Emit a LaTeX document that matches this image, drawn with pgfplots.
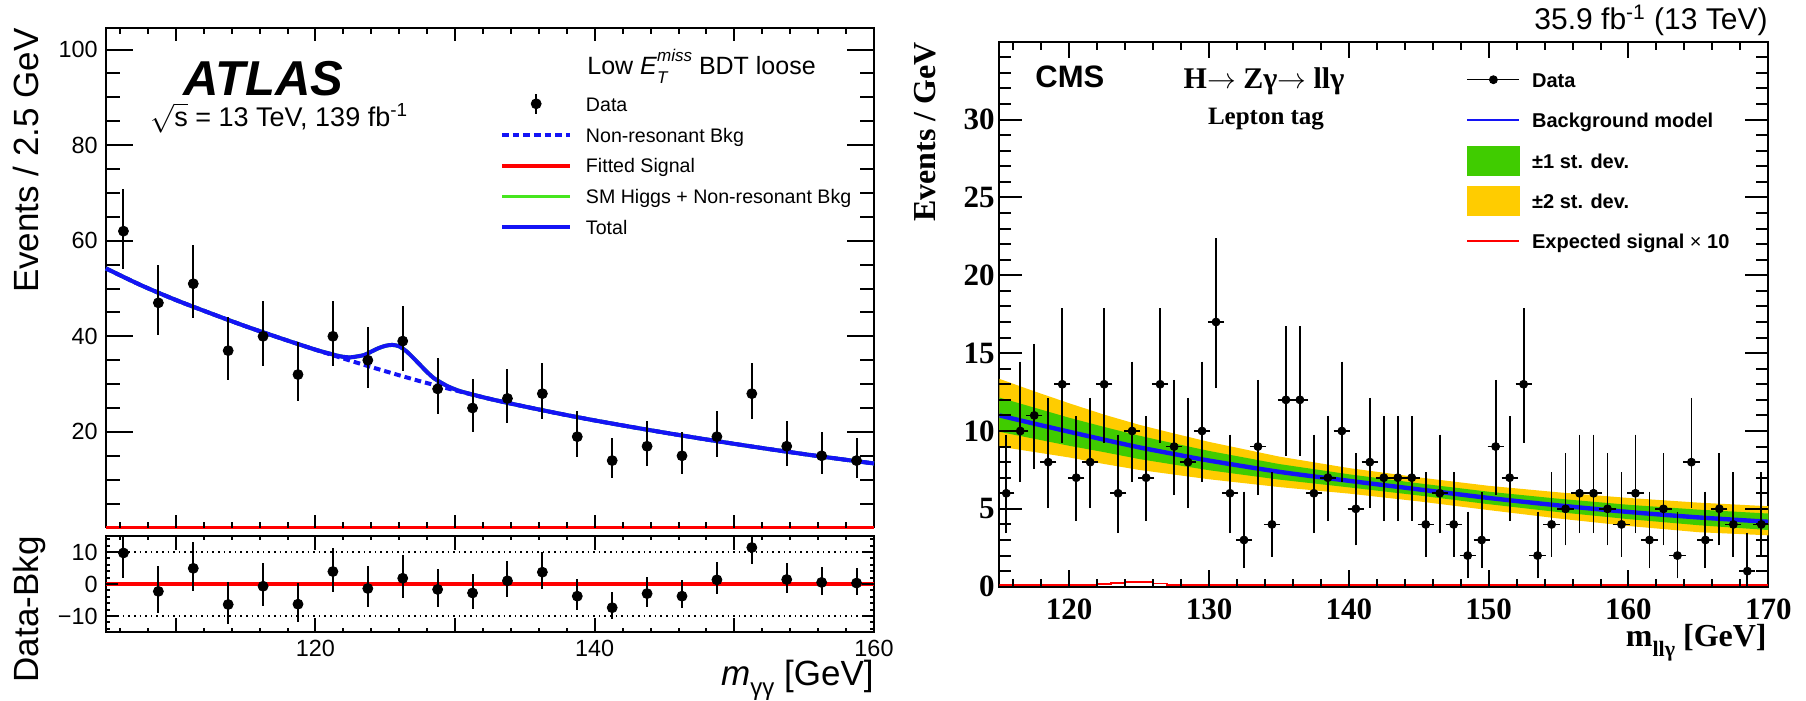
\documentclass[border=0pt]{standalone}
\usepackage{pgfplots}
\pgfplotsset{compat=1.18}
\usepackage{pgfplotstable}
\usepackage{fontspec}
\setmainfont{Liberation Sans}
\newfontfamily\serifbf{Liberation Serif}
\definecolor{cmsgreen}{RGB}{64,204,0}
\definecolor{cmsyellow}{RGB}{255,204,0}
\definecolor{atlasgreen}{RGB}{70,230,30}
\definecolor{rootblue}{RGB}{20,20,245}

\pgfplotsset{
  rootframe/.style={
    scale only axis, anchor=south west, tick align=inside,
    axis line style={draw=black, line width=0.9pt},
    tick style={draw=black, line width=0.9pt},
    /pgf/number format/assume math mode=true,
  },
  atlasdataimg/.style={legend image code/.code={\path (0pt,0pt) (34pt,0pt); \draw[black, line width=1.1pt] (17pt,-3.8pt) -- (17pt,6.2pt); \fill[black] (17pt,1.2pt) circle (2.5pt);}},
  cmsdataimg/.style={legend image code/.code={\draw[black, line width=0.7pt] (0pt,1pt) -- (26pt,1pt); \fill[black] (13pt,1pt) circle (2pt);}},
  cmsgreenimg/.style={legend image code/.code={\fill[cmsgreen] (0pt,-6.5pt) rectangle (26pt,8pt);}},
  cmsyellowimg/.style={legend image code/.code={\fill[cmsyellow] (0pt,-6.5pt) rectangle (26pt,8pt);}},
}
\tikzset{tk/.style={draw=black, line width=1pt}}

\pgfplotstableread{
x y ep em
106.25 62 8.92 7.85
108.75 47 7.90 6.83
111.25 51 8.19 7.12
113.75 37 7.14 6.05
116.25 40 7.37 6.29
118.75 32 6.71 5.62
121.25 40 7.37 6.29
123.75 35 6.97 5.88
126.25 39 7.29 6.22
128.75 29 6.44 5.35
131.25 25 6.06 4.96
133.75 27 6.26 5.16
136.25 28 6.35 5.26
138.75 19 5.43 4.32
141.25 14 4.83 3.69
143.75 17 5.20 4.08
146.25 15 4.95 3.83
148.75 19 5.43 4.32
151.25 28 6.35 5.26
153.75 17 5.20 4.08
156.25 15 4.95 3.83
158.75 14 4.83 3.69
}\atlasdata

\pgfplotstableread{
x d ep em
106.25 9.7 8.92 7.85
108.75 -2.3 7.90 6.83
111.25 4.9 8.19 7.12
113.75 -6.4 7.14 6.05
116.25 -0.7 7.37 6.29
118.75 -6.3 6.71 5.62
121.25 3.9 7.37 6.29
123.75 -1.4 6.97 5.88
126.25 1.8 7.29 6.22
128.75 -1.7 6.44 5.35
131.25 -2.8 6.06 4.96
133.75 1.0 6.26 5.16
136.25 3.7 6.35 5.26
138.75 -3.8 5.43 4.32
141.25 -7.4 4.83 3.69
143.75 -3.0 5.20 4.08
146.25 -3.8 4.95 3.83
148.75 1.3 5.43 4.32
151.25 11.4 6.35 5.26
153.75 1.4 5.20 4.08
156.25 0.5 4.95 3.83
158.75 0.3 4.83 3.69
}\ratiodata

\pgfplotstableread{
x y ex ep em
115.5 6 0.38 3.58 2.38
116.5 10 0.38 4.27 3.11
117.5 11 0.38 4.42 3.26
118.5 8 0.38 3.95 2.77
119.5 13 0.38 4.70 3.56
120.5 7 0.38 3.77 2.58
121.5 8 0.38 3.95 2.77
122.5 13 0.38 4.70 3.56
123.5 6 0.38 3.58 2.38
124.5 10 0.38 4.27 3.11
125.5 7 0.38 3.77 2.58
126.5 13 0.38 4.70 3.56
127.5 9 0.38 4.11 2.94
128.5 8 0.38 3.95 2.77
129.5 10 0.38 4.27 3.11
130.5 17 0.38 5.20 4.07
131.5 6 0.38 3.58 2.38
132.5 3 0.38 2.92 1.63
133.5 9 0.38 4.11 2.94
134.5 4 0.38 3.16 1.91
135.5 12 0.38 4.56 3.41
136.5 12 0.38 4.56 3.41
137.5 6 0.38 3.58 2.38
138.5 7 0.38 3.77 2.58
139.5 10 0.38 4.27 3.11
140.5 5 0.38 3.38 2.16
141.5 8 0.38 3.95 2.77
142.5 7 0.38 3.77 2.58
143.5 7 0.38 3.77 2.58
144.5 7 0.38 3.77 2.58
145.5 4 0.38 3.16 1.91
146.5 6 0.38 3.58 2.38
147.5 4 0.38 3.16 1.91
148.5 2 0.38 2.64 1.29
149.5 3 0.38 2.92 1.63
150.5 9 0.38 4.11 2.94
151.5 7 0.38 3.77 2.58
152.5 13 0.38 4.70 3.56
153.5 2 0.38 2.64 1.29
154.5 4 0.38 3.16 1.91
155.5 5 0.38 3.38 2.16
156.5 6 0.38 3.58 2.38
157.5 6 0.38 3.58 2.38
158.5 5 0.38 3.38 2.16
159.5 4 0.38 3.16 1.91
160.5 6 0.38 3.58 2.38
161.5 3 0.38 2.92 1.63
162.5 5 0.38 3.38 2.16
163.5 2 0.38 2.64 1.29
164.5 8 0.38 3.95 2.77
165.5 3 0.38 2.92 1.63
166.5 5 0.38 3.38 2.16
167.5 4 0.38 3.16 1.91
168.5 1 0.38 2.30 0.83
169.5 4 0.38 3.16 1.91
}\cmsdata

\begin{document}
\begin{tikzpicture}
\path (0pt,0pt) rectangle (903pt,350pt);

% ================= ATLAS main panel
\begin{axis}[rootframe,
  at={(53pt,86.25pt)}, width=384pt, height=249.75pt,
  xmin=105, xmax=160, ymin=0, ymax=104.5,
  xtick=\empty, ytick={20,40,...,100},
  yticklabel style={font=\fontsize{11.7}{13}\selectfont, inner sep=0pt, xshift=-4pt},
  clip=false,
  legend cell align=left,
  legend image code/.code={\draw[#1] (0pt,0.75pt) -- (34pt,0.75pt);},
  legend style={at={(0.513,0.8713)}, anchor=north west, draw=none, fill=none,
    font=\fontsize{9.8}{11}\selectfont, inner sep=0pt, row sep=4.8pt,
    nodes={inner sep=0pt, text height=8pt, text depth=2.5pt},
    /tikz/every odd column/.append style={column sep=7pt}},
]
\addlegendimage{atlasdataimg}
\addlegendentry{Data}
\addlegendimage{rootblue, line width=1.8pt, dash pattern=on 3.3pt off 2pt}
\addlegendentry{Non-resonant Bkg}
\addlegendimage{red, line width=1.8pt}
\addlegendentry{Fitted Signal}
\addlegendimage{atlasgreen, line width=1.8pt}
\addlegendentry{SM Higgs + Non-resonant Bkg}
\addlegendimage{rootblue, line width=1.8pt}
\addlegendentry{Total}

\addplot[atlasgreen, line width=2pt, smooth, forget plot] coordinates {
(105,54.2) (107.5,50.7) (110,47.6) (112.5,44.8) (115,42.1) (117.5,39.6) (120,37.2)
(121,36.4) (121.5,36.0) (122,35.7) (122.5,35.6) (123,35.8) (123.5,36.1) (124,36.8)
(124.5,37.5) (125,38.0) (125.5,38.2) (126,37.9) (126.5,36.9) (127,35.5) (127.5,34.0)
(128,32.5) (128.5,31.2) (129,30.3) (129.5,29.5) (130,28.9) (130.5,28.4) (132.5,26.9)
(135,25.3) (137.5,23.8) (140,22.4) (142.5,21.1) (145,19.85) (147.5,18.65) (150,17.5)
(152.5,16.4) (155,15.35) (157.5,14.35) (160,13.4)};
\addplot[rootblue, line width=2pt, dash pattern=on 3.3pt off 2pt, smooth, forget plot] coordinates {
(105,54.2) (107.5,50.7) (110,47.6) (112.5,44.8) (115,42.1) (117.5,39.6) (120,37.2)
(122.5,34.9) (125,32.7) (127.5,30.6) (130,28.7) (132.5,26.9) (135,25.3) (137.5,23.8)
(140,22.4) (142.5,21.1) (145,19.85) (147.5,18.65) (150,17.5) (152.5,16.4) (155,15.35)
(157.5,14.35) (160,13.4)};
\addplot[red, line width=1.7pt, forget plot] coordinates {(105,0) (160,0)};
\addplot[rootblue, line width=2pt, smooth, forget plot] coordinates {
(105,54.2) (107.5,50.7) (110,47.6) (112.5,44.8) (115,42.1) (117.5,39.6) (120,37.2)
(121,36.4) (121.5,36.0) (122,35.7) (122.5,35.6) (123,35.8) (123.5,36.1) (124,36.8)
(124.5,37.5) (125,38.0) (125.5,38.2) (126,37.9) (126.5,36.9) (127,35.5) (127.5,34.0)
(128,32.5) (128.5,31.2) (129,30.3) (129.5,29.5) (130,28.9) (130.5,28.4) (132.5,26.9)
(135,25.3) (137.5,23.8) (140,22.4) (142.5,21.1) (145,19.85) (147.5,18.65) (150,17.5)
(152.5,16.4) (155,15.35) (157.5,14.35) (160,13.4)};
\addplot[only marks, mark=*, mark size=2.5pt, black, forget plot,
  error bars/.cd, y dir=both, y explicit, error mark=none, error bar style={line width=1pt}]
  table[x=x, y=y, y error plus=ep, y error minus=em] {\atlasdata};
\end{axis}

% ================= ATLAS ratio panel
\begin{axis}[rootframe,
  at={(53pt,34pt)}, width=384pt, height=48pt,
  xmin=105, xmax=160, ymin=-15, ymax=15,
  xtick={110,120,...,160}, xticklabels={,120,,140,,160},
  ytick={-10,0,10}, yticklabels={−10,0,10},
  yticklabel style={font=\fontsize{11.7}{13}\selectfont, inner sep=0pt, xshift=-4pt},
  xticklabel style={font=\fontsize{11.7}{13}\selectfont, inner sep=0pt, yshift=-4pt},
]
\addplot[black, dotted, line width=0.8pt] coordinates {(105,10) (160,10)};
\addplot[black, dotted, line width=0.8pt] coordinates {(105,-10) (160,-10)};
\addplot[red, line width=2.2pt] coordinates {(105,0) (160,0)};
\addplot[only marks, mark=*, mark size=2.5pt, black,
  error bars/.cd, y dir=both, y explicit, error mark=none, error bar style={line width=1pt}]
  table[x=x, y=d, y error plus=ep, y error minus=em] {\ratiodata};
\end{axis}

% ================= CMS panel
\begin{axis}[rootframe,
  at={(499.65pt,56.65pt)}, width=384.5pt, height=272.5pt,
  xmin=115, xmax=170, ymin=0, ymax=35,
  xtick={120,130,...,170}, ytick={0,5,...,30},
  yticklabel style={font=\serifbf\bfseries\fontsize{15.5}{17}\selectfont, inner sep=0pt, xshift=-2.2pt},
  xticklabel style={font=\serifbf\bfseries\fontsize{15.5}{17}\selectfont, inner sep=0pt, yshift=-5.8pt},
  legend cell align=left,
  legend image code/.code={\draw[#1] (0pt,1pt) -- (26pt,1pt);},
  legend style={at={(0.6069,0.9567)}, anchor=north west, draw=none, fill=none,
    font=\bfseries\fontsize{10}{12}\selectfont, inner sep=0pt, row sep=4pt,
    nodes={inner sep=0pt, text height=11pt, text depth=5pt},
    /tikz/every odd column/.append style={column sep=5.85pt}},
]
\addlegendimage{cmsdataimg}
\addlegendentry{Data}
\addlegendimage{rootblue, line width=1pt}
\addlegendentry{Background model}
\addlegendimage{cmsgreenimg}
\addlegendentry{±1 st. dev.}
\addlegendimage{cmsyellowimg}
\addlegendentry{±2 st. dev.}
\addlegendimage{red, line width=1pt}
\addlegendentry{Expected signal {\mdseries×} 10}

\addplot[fill=cmsyellow, draw=none, forget plot] coordinates {
(115,13.35) (117.5,12.55) (120,11.78) (122.5,11.05) (125,10.4) (127.5,9.84) (130,9.3)
(135,8.36) (140,7.62) (145,7.02) (150,6.48) (155,6.06) (160,5.7) (165,5.4) (170,5.17)
(170,3.3) (165,3.5) (160,3.9) (155,4.38) (150,4.92) (145,5.48) (140,5.98) (135,6.4)
(130,6.9) (127.5,7.2) (125,7.5) (122.5,7.88) (120,8.3) (117.5,8.65) (115,9.0)} -- cycle;
\addplot[fill=cmsgreen, draw=none, forget plot] coordinates {
(115,12.15) (117.5,11.5) (120,10.85) (122.5,10.26) (125,9.7) (127.5,9.2) (130,8.72)
(135,7.88) (140,7.22) (145,6.64) (150,6.1) (155,5.65) (160,5.26) (165,4.95) (170,4.7)
(170,3.64) (165,3.95) (160,4.34) (155,4.79) (150,5.3) (145,5.86) (140,6.38) (135,6.88)
(130,7.48) (127.5,7.84) (125,8.2) (122.5,8.64) (120,9.05) (117.5,9.5) (115,9.95)} -- cycle;
\addplot[rootblue, line width=2.2pt, smooth, forget plot] coordinates {
(115,11.0) (117.5,10.47) (120,9.95) (122.5,9.44) (125,8.95) (127.5,8.52) (130,8.1)
(135,7.38) (140,6.8) (145,6.25) (150,5.7) (155,5.22) (160,4.8) (165,4.45) (170,4.17)};
\addplot[red, line width=0.9pt, const plot, forget plot] coordinates {
(115,0.12) (121,0.12) (122,0.18) (123,0.24) (124,0.29) (125,0.29) (126,0.2) (127,0.12) (128,0.12) (170,0.12)};
\addplot[only marks, mark=*, mark size=2pt, black, forget plot,
  error bars/.cd, y dir=both, y explicit, x dir=both, x explicit,
  error mark=-, error mark options={line width=0.9pt, mark size=1.4pt},
  error bar style={line width=0.9pt}]
  table[x=x, y=y, x error=ex, y error plus=ep, y error minus=em] {\cmsdata};
\end{axis}

% ================= frame ticks (ROOT style, both sides)
% ATLAS main
\foreach \v in {5,10,...,100} {
  \draw[tk] (53pt,{86.25pt+2.38995pt*\v}) -- ++(7pt,0pt);
  \draw[tk] (437pt,{86.25pt+2.38995pt*\v}) -- ++(-7pt,0pt);
}
\foreach \v in {20,40,...,100} {
  \draw[tk] (53pt,{86.25pt+2.38995pt*\v}) -- ++(13.5pt,0pt);
  \draw[tk] (437pt,{86.25pt+2.38995pt*\v}) -- ++(-13.5pt,0pt);
}
\foreach \u in {106,108,...,158} {
  \draw[tk] ({53pt+6.98182pt*(\u-105)},86.25pt) -- ++(0pt,3pt);
  \draw[tk] ({53pt+6.98182pt*(\u-105)},336pt) -- ++(0pt,-3pt);
  \draw[tk] ({53pt+6.98182pt*(\u-105)},34pt) -- ++(0pt,1.8pt);
  \draw[tk] ({53pt+6.98182pt*(\u-105)},82pt) -- ++(0pt,-1.8pt);
}
\foreach \u in {110,120,...,150} {
  \draw[tk] ({53pt+6.98182pt*(\u-105)},86.25pt) -- ++(0pt,6.3pt);
  \draw[tk] ({53pt+6.98182pt*(\u-105)},336pt) -- ++(0pt,-6.3pt);
  \draw[tk] ({53pt+6.98182pt*(\u-105)},34pt) -- ++(0pt,7.2pt);
  \draw[tk] ({53pt+6.98182pt*(\u-105)},82pt) -- ++(0pt,-7.2pt);
}
% ATLAS ratio
\foreach \v in {-14,-12,...,14} {
  \draw[tk] (53pt,{58pt+1.6pt*\v}) -- ++(2pt,0pt);
  \draw[tk] (437pt,{58pt+1.6pt*\v}) -- ++(-2pt,0pt);
}
\foreach \v in {-10,0,10} {
  \draw[tk] (53pt,{58pt+1.6pt*\v}) -- ++(6pt,0pt);
  \draw[tk] (437pt,{58pt+1.6pt*\v}) -- ++(-6pt,0pt);
}
% CMS
\foreach \v in {1,2,...,34} {
  \draw[tk] (499.65pt,{56.65pt+7.78571pt*\v}) -- ++(6pt,0pt);
  \draw[tk] (884.15pt,{56.65pt+7.78571pt*\v}) -- ++(-6pt,0pt);
}
\foreach \v in {5,10,...,30} {
  \draw[tk] (499.65pt,{56.65pt+7.78571pt*\v}) -- ++(11.5pt,0pt);
  \draw[tk] (884.15pt,{56.65pt+7.78571pt*\v}) -- ++(-11.5pt,0pt);
}
\foreach \u in {116,118,...,168} {
  \draw[tk] ({499.65pt+6.99091pt*(\u-115)},56.65pt) -- ++(0pt,4pt);
  \draw[tk] ({499.65pt+6.99091pt*(\u-115)},329.15pt) -- ++(0pt,-4pt);
}
\foreach \u in {120,130,...,160} {
  \draw[tk] ({499.65pt+6.99091pt*(\u-115)},56.65pt) -- ++(0pt,8.3pt);
  \draw[tk] ({499.65pt+6.99091pt*(\u-115)},329.15pt) -- ++(0pt,-8.3pt);
}

% ================= texts
\node[anchor=base west, inner sep=0pt, font=\bfseries\itshape\fontsize{24.5}{26}\selectfont] at (91.5pt,302.5pt) {ATLAS};
\node[anchor=base west, inner sep=0pt, font=\fontsize{13.5}{15}\selectfont] at (75pt,286.65pt) {$\sqrt{\mbox{s}}$ = 13 TeV, 139 fb\textsuperscript{-1}};
\node[anchor=base west, inner sep=0pt, font=\fontsize{12.5}{14}\selectfont] at (293.5pt,312.5pt) {Low \textit{E}\rlap{\raisebox{-0.32em}{\fontsize{8.5}{9}\selectfont\itshape T}}\raisebox{0.55em}{\fontsize{8.5}{9}\selectfont\itshape miss} BDT loose};
\node[rotate=90, anchor=base east, inner sep=0pt, font=\fontsize{17.5}{19}\selectfont] at (19.5pt,336pt) {Events / 2.5 GeV};
\node[rotate=90, anchor=base east, inner sep=0pt, font=\fontsize{17.5}{19}\selectfont] at (19.5pt,82pt) {Data-Bkg};
\node[anchor=base east, inner sep=0pt, font=\fontsize{17.5}{19}\selectfont] at (437pt,7.3pt) {\textit{m}\raisebox{-0.3em}{\fontsize{12}{13}\selectfont γγ} [GeV]};

\node[anchor=base east, inner sep=0pt, font=\fontsize{15}{17}\selectfont] at (884pt,335pt) {35.9 fb\textsuperscript{-1} (13 TeV)};
\node[anchor=base west, inner sep=0pt, font=\bfseries\fontsize{15.5}{17}\selectfont] at (517.5pt,306.5pt) {CMS};
\node[anchor=base, inner sep=0pt, font=\serifbf\bfseries\fontsize{15}{17}\selectfont] at (632pt,306pt) {H$\rightarrow$ Zγ$\rightarrow$ llγ};
\node[anchor=base, inner sep=0pt, font=\serifbf\bfseries\fontsize{12.5}{14}\selectfont] at (633pt,288pt) {Lepton tag};
\node[rotate=90, anchor=base east, inner sep=0pt, font=\serifbf\bfseries\fontsize{16}{18}\selectfont] at (467.5pt,329pt) {Events / GeV};
\node[anchor=base east, inner sep=0pt, font=\serifbf\bfseries\fontsize{16}{18}\selectfont] at (883.5pt,26.65pt) {m\raisebox{-0.3em}{\fontsize{11}{12}\selectfont llγ} [GeV]};
\end{tikzpicture}
\end{document}
